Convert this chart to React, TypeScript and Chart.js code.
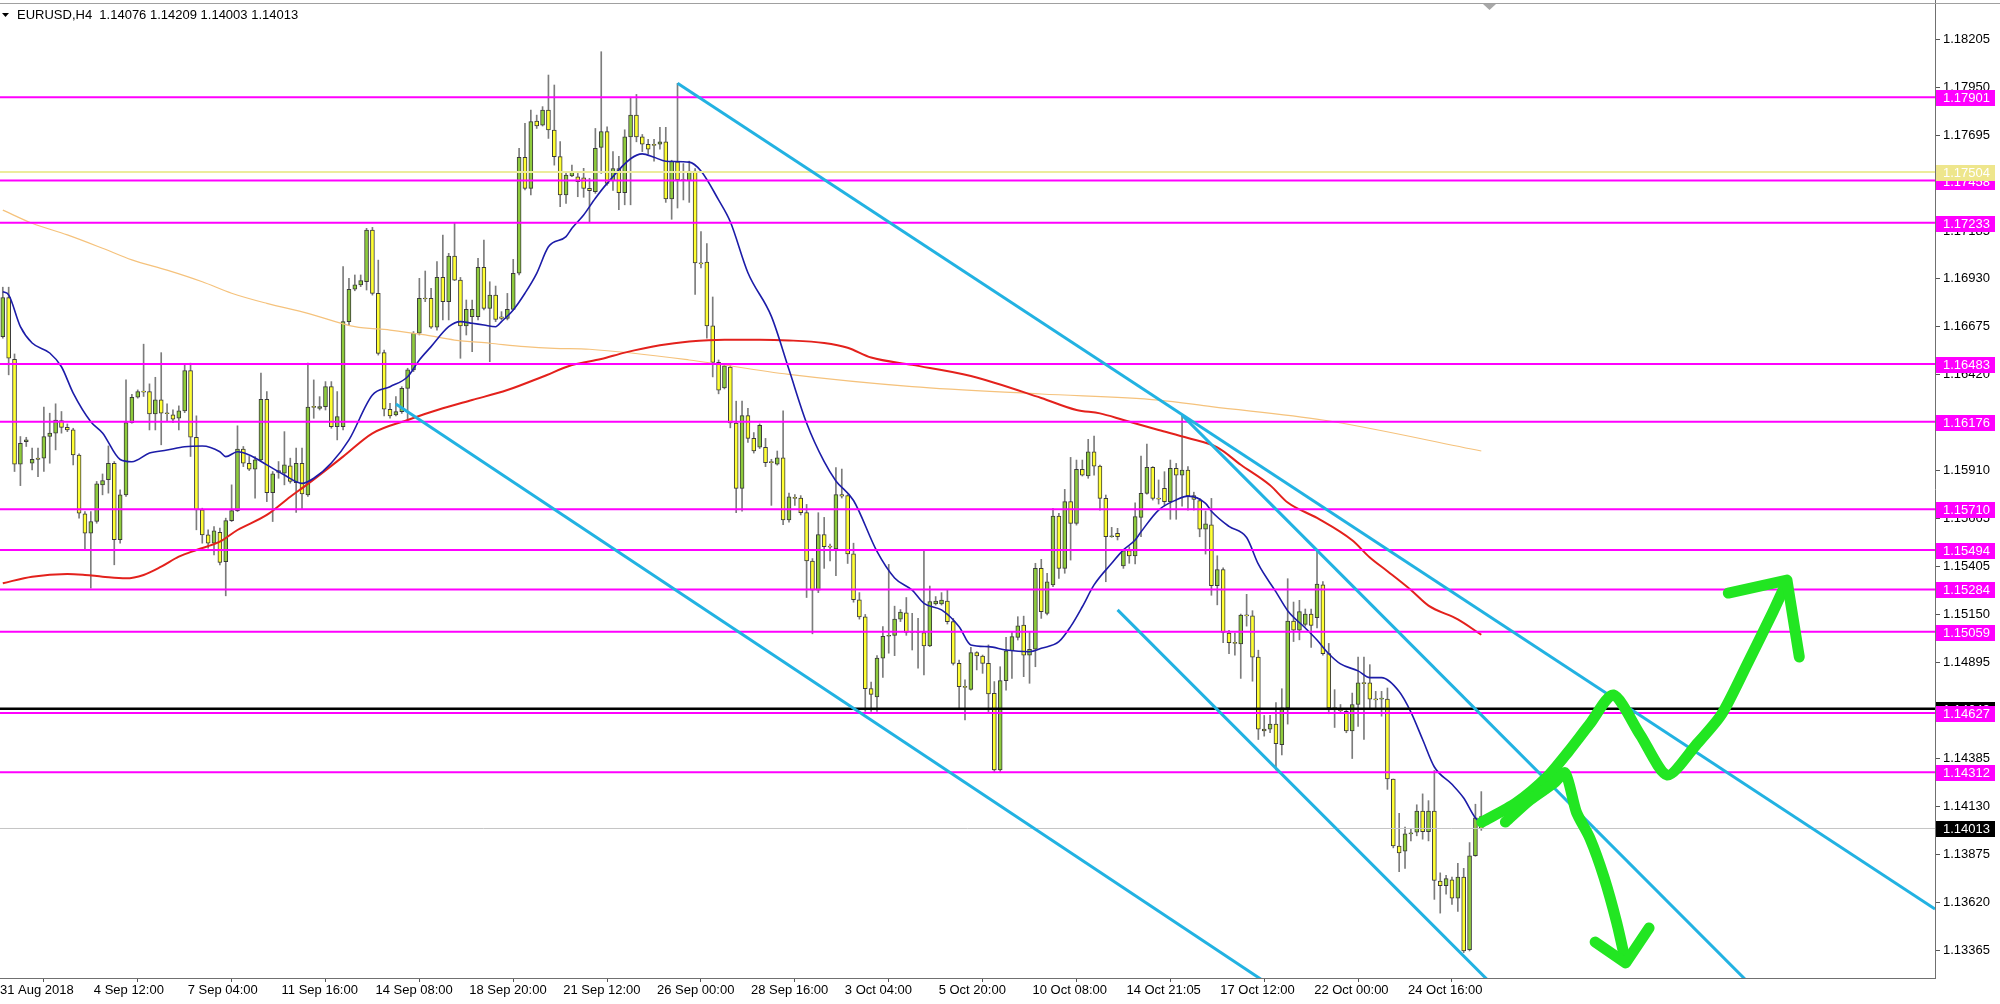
import React, { useEffect, useRef } from 'react';
import { Chart, registerables } from 'chart.js';

Chart.register(...registerables);

const FONT = '"Liberation Sans", Arial, sans-serif';

// ---- chart identity ----
const symbolName = 'EURUSD';
const timeframeName = 'H4';

// ---- candles (4-hour bars, index 0..252) ----
const openPrices = [
  1.16628,1.16836,1.16508,1.15950,1.16070,1.15955,1.15983,1.15982,1.16097,1.16115,
  1.16182,1.16146,1.16132,1.15999,1.15686,1.15583,1.15645,1.15840,1.15867,1.15955,
  1.15548,1.15787,1.16171,1.16306,1.16336,1.16336,1.16217,1.16292,1.16221,1.16212,
  1.16194,1.16233,1.16448,1.16093,1.15707,1.15574,1.15530,1.15587,1.15432,1.15650,
  1.15703,1.16030,1.15955,1.15923,1.15973,1.16295,1.15799,1.15916,1.15902,1.15941,
  1.15852,1.15955,1.15787,1.16256,1.16247,1.16256,1.16362,1.16149,1.16149,1.16708,
  1.16880,1.16903,1.16920,1.17195,1.16858,1.16543,1.16242,1.16212,1.16229,1.16353,
  1.16451,1.16646,1.16832,1.16832,1.16678,1.16943,1.16814,1.17057,1.16929,1.16685,
  1.16734,1.16734,1.16997,1.16778,1.16849,1.16734,1.16725,1.16773,1.16965,1.17581,
  1.17416,1.17774,1.17753,1.17833,1.17727,1.17585,1.17381,1.17482,1.17478,1.17473,
  1.17416,1.17399,1.17634,1.17718,1.17458,1.17522,1.17393,1.17690,1.17806,1.17690,
  1.17651,1.17651,1.17651,1.17664,1.17360,1.17558,1.17461,1.17458,1.17509,1.17020,
  1.17025,1.16685,1.16491,1.16355,1.16466,1.16169,1.15821,1.16208,1.16087,1.16040,
  1.16040,1.15963,1.15950,1.15984,1.15654,1.15771,1.15770,1.15692,1.15435,1.15280,
  1.15576,1.15512,1.15499,1.15788,1.15783,1.15473,1.15229,1.15138,1.14757,1.14713,
  1.14919,1.15035,1.15040,1.15126,1.15159,1.15059,1.15055,1.15054,1.14983,1.15207,
  1.15207,1.15222,1.15113,1.14891,1.14767,1.14753,1.14948,1.14930,1.14891,1.14732,
  1.14324,1.14799,1.14958,1.15029,1.15095,1.14935,1.14966,1.15396,1.15157,1.15308,
  1.15674,1.15396,1.15751,1.15635,1.15922,1.15887,1.16016,1.15940,1.15768,1.15564,
  1.15582,1.15409,1.15490,1.15462,1.15667,1.15795,1.15933,1.15768,1.15821,1.15751,
  1.15928,1.15892,1.15919,1.15783,1.15756,1.15604,1.15628,1.15304,1.15390,1.15052,
  1.15001,1.14994,1.15147,1.15144,1.14924,1.14541,1.14541,1.14568,1.14459,1.14654,
  1.15116,1.15067,1.15098,1.15153,1.15134,1.15308,1.14943,1.14654,1.14645,1.14636,
  1.14532,1.14672,1.14787,1.14787,1.14701,1.14701,1.14701,1.14276,1.13920,1.13892,
  1.13984,1.13993,1.14106,1.13996,1.14106,1.13733,1.13709,1.13740,1.13642,1.13755,
  1.13368,1.13868,1.14076,
];

const highPrices = [
  1.16891,1.16891,1.16536,1.16097,1.16093,1.16035,1.16035,1.16253,1.16221,1.16271,
  1.16230,1.16164,1.16141,1.16005,1.15698,1.15698,1.15858,1.15898,1.16047,1.15964,
  1.15813,1.16398,1.16322,1.16345,1.16588,1.16377,1.16412,1.16543,1.16271,1.16239,
  1.16260,1.16478,1.16487,1.16207,1.15716,1.15601,1.15618,1.15610,1.15663,1.15840,
  1.16154,1.16044,1.15991,1.15991,1.16434,1.16336,1.15911,1.15964,1.16123,1.15982,
  1.16035,1.16035,1.16487,1.16398,1.16309,1.16389,1.16389,1.16336,1.17000,1.16938,
  1.16956,1.16956,1.17204,1.17209,1.17035,1.16557,1.16274,1.16309,1.16362,1.16460,
  1.16655,1.16938,1.16977,1.16885,1.17027,1.17168,1.17071,1.17234,1.16943,1.16823,
  1.16823,1.17044,1.17142,1.16920,1.16897,1.16761,1.16858,1.17039,1.17629,1.17762,
  1.17833,1.17806,1.17851,1.18019,1.17966,1.17665,1.17496,1.17540,1.17496,1.17523,
  1.17470,1.17735,1.18143,1.17744,1.17612,1.17587,1.17728,1.17901,1.17916,1.17703,
  1.17677,1.17677,1.17741,1.17741,1.17566,1.17975,1.17548,1.17561,1.17522,1.17187,
  1.17123,1.16839,1.16504,1.16484,1.16473,1.16285,1.16285,1.16247,1.16118,1.16164,
  1.16087,1.15976,1.16020,1.16234,1.15796,1.15788,1.15783,1.15736,1.15448,1.15692,
  1.15667,1.15525,1.15932,1.15924,1.15788,1.15530,1.15267,1.15151,1.14791,1.14932,
  1.15087,1.15417,1.15195,1.15177,1.15241,1.15157,1.15130,1.15490,1.15302,1.15246,
  1.15267,1.15281,1.15130,1.14909,1.14803,1.14976,1.14953,1.14935,1.14989,1.14794,
  1.14873,1.15029,1.15059,1.15139,1.15142,1.15059,1.15423,1.15444,1.15370,1.15715,
  1.15689,1.15816,1.15986,1.15972,1.15972,1.16082,1.16100,1.15945,1.15786,1.15614,
  1.15609,1.15494,1.15511,1.15745,1.15993,1.16057,1.15937,1.15866,1.15910,1.15972,
  1.15954,1.16211,1.15937,1.15801,1.15768,1.15701,1.15768,1.15463,1.15399,1.15067,
  1.15052,1.15153,1.15258,1.15171,1.14961,1.14614,1.14614,1.14683,1.14756,1.15341,
  1.15217,1.15226,1.15180,1.15180,1.15491,1.15326,1.14997,1.14751,1.14672,1.14641,
  1.14733,1.14924,1.14924,1.14884,1.14742,1.14742,1.14760,1.14276,1.14093,1.14020,
  1.14011,1.14139,1.14197,1.14161,1.14321,1.13777,1.13764,1.13755,1.13828,1.13801,
  1.13938,1.14142,1.14209,
];

const lowPrices = [
  1.16620,1.16425,1.15911,1.15836,1.16044,1.15920,1.15884,1.15911,1.15955,1.16026,
  1.16115,1.16123,1.15946,1.15663,1.15494,1.15291,1.15636,1.15787,1.15796,1.15415,
  1.15530,1.15778,1.16168,1.16301,1.16310,1.16132,1.16132,1.16053,1.16177,1.16171,
  1.16132,1.16224,1.15991,1.15601,1.15530,1.15503,1.15468,1.15415,1.15250,1.15645,
  1.15698,1.15937,1.15916,1.15769,1.15964,1.15751,1.15645,1.15875,1.15840,1.15849,
  1.15693,1.15711,1.15778,1.16194,1.16238,1.16238,1.16141,1.16079,1.16132,1.16690,
  1.16872,1.16894,1.16876,1.16849,1.16530,1.16206,1.16194,1.16206,1.16220,1.16176,
  1.16442,1.16637,1.16814,1.16672,1.16663,1.16717,1.16717,1.16926,1.16513,1.16637,
  1.16548,1.16717,1.16770,1.16495,1.16708,1.16717,1.16717,1.16770,1.16956,1.17408,
  1.17381,1.17735,1.17748,1.17682,1.17540,1.17319,1.17337,1.17478,1.17372,1.17369,
  1.17234,1.17390,1.17496,1.17434,1.17406,1.17303,1.17329,1.17329,1.17664,1.17612,
  1.17599,1.17561,1.17625,1.17342,1.17252,1.17312,1.17355,1.17342,1.16852,1.16994,
  1.16620,1.16414,1.16324,1.16350,1.16143,1.15692,1.15700,1.16066,1.16009,1.16033,
  1.15937,1.15731,1.15945,1.15628,1.15641,1.15731,1.15680,1.15241,1.15048,1.15267,
  1.15396,1.15435,1.15357,1.15770,1.15422,1.15216,1.15126,1.14636,1.14636,1.14636,
  1.14816,1.14945,1.14932,1.15113,1.15040,1.14962,1.14865,1.14829,1.14980,1.15201,
  1.15201,1.15100,1.14882,1.14647,1.14590,1.14749,1.14856,1.14838,1.14625,1.14315,
  1.14310,1.14749,1.14811,1.15015,1.14820,1.14785,1.14873,1.15130,1.15148,1.15299,
  1.15343,1.15370,1.15440,1.15626,1.15887,1.15875,1.15892,1.15706,1.15325,1.15561,
  1.15547,1.15396,1.15423,1.15419,1.15564,1.15791,1.15759,1.15738,1.15728,1.15657,
  1.15657,1.15727,1.15706,1.15706,1.15564,1.15472,1.15253,1.15202,1.15001,1.14943,
  1.14934,1.14811,1.15089,1.14796,1.14486,1.14504,1.14522,1.14325,1.14404,1.14568,
  1.15007,1.15016,1.15089,1.14976,1.15080,1.14934,1.14623,1.14550,1.14632,1.14522,
  1.14385,1.14555,1.14486,1.14650,1.14650,1.14610,1.14221,1.13910,1.13783,1.13801,
  1.13947,1.13974,1.13956,1.13947,1.13636,1.13563,1.13664,1.13609,1.13572,1.13353,
  1.13362,1.13865,1.14003,
];

const closePrices = [
  1.16836,1.16513,1.15950,1.16061,1.16079,1.15976,1.15975,1.16097,1.16115,1.16185,
  1.16146,1.16132,1.15999,1.15689,1.15583,1.15645,1.15845,1.15863,1.15955,1.15548,
  1.15787,1.16171,1.16306,1.16336,1.16333,1.16217,1.16292,1.16221,1.16218,1.16189,
  1.16233,1.16448,1.16093,1.15707,1.15574,1.15530,1.15595,1.15427,1.15650,1.15703,
  1.16030,1.15955,1.15923,1.15973,1.16295,1.15799,1.15898,1.15906,1.15946,1.15858,
  1.15955,1.15792,1.16253,1.16252,1.16256,1.16362,1.16149,1.16203,1.16708,1.16880,
  1.16903,1.16926,1.17195,1.16858,1.16539,1.16242,1.16206,1.16229,1.16353,1.16451,
  1.16646,1.16832,1.16828,1.16678,1.16943,1.16814,1.17057,1.16929,1.16685,1.16773,
  1.16773,1.16997,1.16778,1.16849,1.16720,1.16725,1.16773,1.16965,1.17581,1.17416,
  1.17771,1.17748,1.17833,1.17727,1.17585,1.17381,1.17487,1.17505,1.17452,1.17416,
  1.17404,1.17629,1.17718,1.17443,1.17522,1.17393,1.17690,1.17806,1.17690,1.17651,
  1.17625,1.17645,1.17664,1.17360,1.17561,1.17461,1.17458,1.17509,1.17020,1.17015,
  1.16685,1.16491,1.16344,1.16473,1.16169,1.15821,1.16208,1.16087,1.16020,1.16156,
  1.15958,1.15958,1.15984,1.15654,1.15777,1.15768,1.15692,1.15435,1.15280,1.15576,
  1.15512,1.15509,1.15788,1.15780,1.15473,1.15229,1.15138,1.14757,1.14726,1.14919,
  1.15035,1.15040,1.15126,1.15164,1.15056,1.15055,1.15059,1.14983,1.15219,1.15222,
  1.15228,1.15113,1.14891,1.14767,1.14763,1.14948,1.14930,1.14891,1.14728,1.14324,
  1.14799,1.14958,1.15033,1.15090,1.14935,1.14966,1.15396,1.15166,1.15325,1.15674,
  1.15396,1.15751,1.15635,1.15922,1.15892,1.16016,1.15940,1.15768,1.15564,1.15568,
  1.15564,1.15490,1.15462,1.15671,1.15795,1.15933,1.15768,1.15764,1.15751,1.15928,
  1.15892,1.15919,1.15781,1.15763,1.15604,1.15633,1.15304,1.15390,1.15056,1.15001,
  1.14997,1.15147,1.15143,1.14924,1.14541,1.14532,1.14568,1.14464,1.14654,1.15116,
  1.15067,1.15166,1.15153,1.15092,1.15312,1.14943,1.14654,1.14650,1.14639,1.14532,
  1.14672,1.14787,1.14783,1.14701,1.14697,1.14705,1.14276,1.13920,1.13883,1.13984,
  1.13988,1.14106,1.13996,1.14106,1.13737,1.13709,1.13746,1.13642,1.13755,1.13362,
  1.13868,1.14069,1.14013,
];

// ---- moving averages (bar index -> price) ----
const blueMaBars = [0,1,3,5,8,10,12,15,17,20,22,25,28,31,34,37,38,40,42,45,48,51,53,56,59,63,66,69,71,73,76,78,80,82,84,85,87,89,91,93,96,97,99,101,103,107,109,111,113,117,119,122,124,127,131,134,137,140,142,145,149,152,155,157,160,163,165,168,171,175,177,180,182,184,186,189,191,193,194,197,200,202,205,206,209,212,214,217,219,222,224,226,228,231,233,235,238,240,242,244,247,249,251,252];
const blueMaValues = [1.16867,1.16850,1.16681,1.16594,1.16541,1.16468,1.16328,1.16176,1.16116,1.15975,1.15963,1.16009,1.16025,1.16043,1.16047,1.16016,1.15990,1.16016,1.15999,1.15946,1.15892,1.15848,1.15875,1.15956,1.16079,1.16318,1.16362,1.16415,1.16504,1.16575,1.16681,1.16708,1.16699,1.16690,1.16681,1.16708,1.16770,1.16859,1.16965,1.17106,1.17160,1.17204,1.17275,1.17364,1.17443,1.17574,1.17600,1.17582,1.17561,1.17556,1.17509,1.17355,1.17239,1.16968,1.16736,1.16453,1.16169,1.15963,1.15861,1.15757,1.15486,1.15345,1.15280,1.15210,1.15175,1.15086,1.14989,1.14980,1.14962,1.14953,1.14971,1.15006,1.15086,1.15192,1.15308,1.15423,1.15494,1.15547,1.15590,1.15706,1.15760,1.15780,1.15742,1.15700,1.15619,1.15560,1.15418,1.15271,1.15171,1.15079,1.15015,1.14942,1.14888,1.14851,1.14815,1.14815,1.14741,1.14632,1.14486,1.14340,1.14248,1.14175,1.14069,1.14047];

const redMaBars = [0,5,11,14,17,21,24,27,30,33,37,40,45,49,52,58,63,69,75,80,86,92,97,102,106,112,117,123,129,134,140,144,148,155,165,177,183,187,191,197,202,207,211,216,219,224,230,233,236,240,243,248,252];
const redMaValues = [1.15317,1.15352,1.15366,1.15361,1.15352,1.15343,1.15361,1.15405,1.15458,1.15494,1.15538,1.15600,1.15680,1.15777,1.15845,1.15990,1.16114,1.16185,1.16247,1.16291,1.16344,1.16415,1.16477,1.16509,1.16543,1.16582,1.16602,1.16612,1.16612,1.16608,1.16594,1.16569,1.16517,1.16478,1.16419,1.16302,1.16238,1.16220,1.16185,1.16132,1.16089,1.16039,1.15947,1.15838,1.15746,1.15664,1.15545,1.15454,1.15381,1.15281,1.15198,1.15125,1.15043];

const orangeMaBars = [0,5,11,17,22,28,34,39,45,52,60,66,72,77,83,89,94,100,117,134,155,177,197,206,225,252];
const orangeMaValues = [1.17301,1.17231,1.17169,1.17098,1.17036,1.16982,1.16920,1.16859,1.16805,1.16752,1.16681,1.16663,1.16637,1.16610,1.16593,1.16575,1.16566,1.16561,1.16504,1.16427,1.16362,1.16323,1.16291,1.16256,1.16185,1.16020];

// ---- horizontal levels ----
const magentaLevels = [1.17901, 1.17458, 1.17233, 1.16483, 1.16176, 1.15710, 1.15494, 1.15284, 1.15059, 1.14627, 1.14312];
const khakiLevel = 1.17504;
const blackLevel = 1.14649;
const currentBid = 1.14013;

// ---- trend lines: start bar/price -> end bar/price ----
const trendStartBars = [115, 67, 201, 190];
const trendStartPrices = [1.17975, 1.16270, 1.16211, 1.15175];
const trendEndBars = [329.33, 215, 297, 253];
const trendEndPrices = [1.13585, 1.13200, 1.13210, 1.13210];

// ---- hand-drawn green arrows (bar, price) ----
const upArrowBars = [252.1, 257.9, 263.2, 266.8, 270.5, 274.5, 279.1, 283.7, 288.6, 293, 297.5, 301.7, 303.9];
const upArrowPrices = [1.14047, 1.14148, 1.14287, 1.14420, 1.14569, 1.14723, 1.14510, 1.14297, 1.14457, 1.14622, 1.14898, 1.15164, 1.15313];
const upHeadBars = [294.1, 304.1, 306.2];
const upHeadPrices = [1.15265, 1.15334, 1.14925];
const downArrowBars = [256.1, 260.3, 264.4, 266.3, 268.2, 270.5, 272.9, 275.1, 276.6];
const downArrowPrices = [1.14047, 1.14164, 1.14255, 1.14308, 1.14101, 1.13962, 1.13755, 1.13510, 1.13303];
const downHeadBars = [271.4, 276.6, 280.6];
const downHeadPrices = [1.13409, 1.13298, 1.13484];

// ---- axes ----
const yTickValues = [1.13365,1.13620,1.13875,1.14130,1.14385,1.14640,1.14895,1.15150,1.15405,1.15660,1.15915,1.16170,1.16425,1.16680,1.16935,1.17190,1.17445,1.17700,1.17955,1.18210];
const yTickLabels = ['1.13365','1.13620','1.13875','1.14130','1.14385','1.14640','1.14895','1.15150','1.15405','1.15665','1.15910','1.16165','1.16420','1.16675','1.16930','1.17185','1.17440','1.17695','1.17950','1.18205'];
const xTickBars = [-1, 15, 31, 47, 63, 79, 95, 111, 127, 143, 159, 175, 191, 207, 223, 239];
const xTickLabels = ['31 Aug 2018','4 Sep 12:00','7 Sep 04:00','11 Sep 16:00','14 Sep 08:00','18 Sep 20:00','21 Sep 12:00','26 Sep 00:00','28 Sep 16:00','3 Oct 04:00','5 Oct 20:00','10 Oct 08:00','14 Oct 21:05','17 Oct 12:00','22 Oct 00:00','24 Oct 16:00'];

const X_MIN = -0.477;
const X_MAX = 329.33;
const Y_MIN = 1.13218;
const Y_MAX = 1.18418;

const pts = (xs: number[], ys: number[]) => xs.map((x, i) => ({ x, y: ys[i] }));

const decorations = {
  id: 'mt4Decorations',
  afterDraw(chart: any) {
    const ctx = chart.ctx as CanvasRenderingContext2D;
    const ys = chart.scales.y;
    const right = chart.chartArea.right;
    ctx.save();
    // window top edge
    ctx.strokeStyle = '#a0a0a0';
    ctx.lineWidth = 1;
    ctx.beginPath();
    ctx.moveTo(0, 3.5);
    ctx.lineTo(2000, 3.5);
    ctx.stroke();
    // chart shift marker
    ctx.fillStyle = '#a8a8a8';
    ctx.beginPath();
    ctx.moveTo(1483, 4);
    ctx.lineTo(1496, 4);
    ctx.lineTo(1489.5, 10);
    ctx.closePath();
    ctx.fill();
    // header
    ctx.fillStyle = '#000';
    ctx.beginPath();
    ctx.moveTo(2, 13);
    ctx.lineTo(9, 13);
    ctx.lineTo(5.5, 17);
    ctx.closePath();
    ctx.fill();
    const n = closePrices.length - 1;
    const header = `${symbolName},${timeframeName}  ${openPrices[n].toFixed(5)} ${highPrices[n].toFixed(5)} ${lowPrices[n].toFixed(5)} ${closePrices[n].toFixed(5)}`;
    ctx.font = `13px ${FONT}`;
    ctx.textBaseline = 'middle';
    ctx.textAlign = 'left';
    ctx.fillText(header, 17, 15.5);
    // price tags on the right
    const tag = (value: number, bg: string, fg: string) => {
      const py = Math.round(ys.getPixelForValue(value));
      ctx.fillStyle = bg;
      ctx.fillRect(right + 1, py - 7, 59, 16);
      ctx.fillStyle = fg;
      ctx.fillText(value.toFixed(5), right + 8, py + 1);
    };
    tag(blackLevel, '#000000', '#ffffff');
    magentaLevels.forEach((v) => tag(v, '#ff00ff', '#ffffff'));
    tag(khakiLevel, '#eee68c', '#ffffff');
    tag(currentBid, '#000000', '#ffffff');
    ctx.restore();
  },
};

export default function App() {
  const canvasRef = useRef<HTMLCanvasElement | null>(null);

  useEffect(() => {
    const canvas = canvasRef.current;
    if (!canvas) return;
    const idx = openPrices.map((_, i) => i);
    const hline = (level: number, color: string, width: number, order: number) => ({
      type: 'line',
      data: [{ x: X_MIN, y: level }, { x: X_MAX, y: level }],
      borderColor: color,
      borderWidth: width,
      pointRadius: 0,
      order,
    });
    const datasets: any[] = [
      {
        type: 'bar',
        data: idx.map((i) => ({ x: i, y: [lowPrices[i], highPrices[i]] })),
        backgroundColor: '#7c7c7c',
        borderWidth: 0,
        barThickness: 1,
        grouped: false,
        order: 100,
      },
      {
        type: 'bar',
        data: idx.map((i) => ({ x: i, y: [openPrices[i], closePrices[i]] })),
        backgroundColor: idx.map((i) => (closePrices[i] >= openPrices[i] ? '#8ecb3c' : '#ffff33')),
        borderColor: '#3a3a3a',
        borderWidth: 1,
        borderSkipped: false,
        barThickness: 4,
        minBarLength: 1,
        grouped: false,
        order: 90,
      },
      hline(currentBid, '#c4c4c4', 1, 60),
      hline(khakiLevel, '#ecec9c', 2, 45),
      ...magentaLevels.map((v) => hline(v, '#ff00ff', 2, 44)),
      hline(blackLevel, '#000000', 2.5, 43),
      {
        type: 'line',
        data: pts(orangeMaBars, orangeMaValues),
        borderColor: '#f5c27c',
        borderWidth: 1.2,
        pointRadius: 0,
        cubicInterpolationMode: 'monotone',
        order: 52,
      },
      {
        type: 'line',
        data: pts(redMaBars, redMaValues),
        borderColor: '#e3211c',
        borderWidth: 2,
        pointRadius: 0,
        cubicInterpolationMode: 'monotone',
        order: 51,
      },
      {
        type: 'line',
        data: pts(blueMaBars, blueMaValues),
        borderColor: '#1c1ca8',
        borderWidth: 1.6,
        pointRadius: 0,
        cubicInterpolationMode: 'monotone',
        order: 50,
      },
      ...trendStartBars.map((b, k) => ({
        type: 'line',
        data: [{ x: b, y: trendStartPrices[k] }, { x: trendEndBars[k], y: trendEndPrices[k] }],
        borderColor: '#22b2e2',
        borderWidth: 3,
        pointRadius: 0,
        order: 30,
      })),
      ...[
        pts(upArrowBars, upArrowPrices),
        pts(upHeadBars, upHeadPrices),
        pts(downArrowBars, downArrowPrices),
        pts(downHeadBars, downHeadPrices),
      ].map((data, k) => ({
        type: 'line',
        data,
        borderColor: '#22e622',
        borderWidth: 11,
        borderCapStyle: 'round',
        borderJoinStyle: 'round',
        pointRadius: 0,
        tension: k % 2 === 0 ? 0.25 : 0,
        order: 10 - k,
      })),
    ];

    const chart = new Chart(canvas, {
      type: 'bar',
      data: { datasets },
      options: {
        responsive: false,
        animation: false,
        devicePixelRatio: 1,
        events: [],
        layout: { autoPadding: false, padding: 0 },
        plugins: { legend: { display: false }, tooltip: { enabled: false } },
        scales: {
          x: {
            type: 'linear',
            min: X_MIN,
            max: X_MAX,
            offset: false,
            afterBuildTicks: (scale: any) => {
              scale.ticks = xTickBars.map((v) => ({ value: v }));
            },
            afterFit: (scale: any) => {
              scale.height = 26;
              scale.paddingLeft = 0;
              scale.paddingRight = 0;
              scale.paddingTop = 0;
              scale.paddingBottom = 0;
            },
            ticks: {
              autoSkip: false,
              maxRotation: 0,
              minRotation: 0,
              align: 'start',
              labelOffset: 3,
              padding: 1,
              color: '#000',
              font: { family: FONT, size: 13 },
              callback: (value: any) => {
                const k = xTickBars.indexOf(Number(value));
                return k >= 0 ? xTickLabels[k] : '';
              },
            },
            grid: { display: true, drawOnChartArea: false, drawTicks: true, tickLength: 4, color: '#555' },
            border: { display: true, color: '#707070', width: 1 },
          },
          y: {
            type: 'linear',
            position: 'right',
            min: Y_MIN,
            max: Y_MAX,
            afterBuildTicks: (scale: any) => {
              scale.ticks = yTickValues.map((v) => ({ value: v }));
            },
            afterFit: (scale: any) => {
              scale.width = 65;
              scale.paddingLeft = 0;
              scale.paddingRight = 0;
              scale.paddingTop = 0;
              scale.paddingBottom = 0;
            },
            ticks: {
              autoSkip: false,
              padding: 3,
              color: '#000',
              font: { family: FONT, size: 13 },
              callback: (value: any) => {
                const k = yTickValues.indexOf(Number(value));
                return k >= 0 ? yTickLabels[k] : '';
              },
            },
            grid: { display: true, drawOnChartArea: false, drawTicks: true, tickLength: 5, color: '#555' },
            border: { display: true, color: '#707070', width: 1 },
          },
        },
      } as any,
      plugins: [decorations],
    } as any);

    return () => chart.destroy();
  }, []);

  return (
    <div style={{ position: 'fixed', left: 0, top: 0, width: 2000, height: 1004, background: '#ffffff' }}>
      <canvas ref={canvasRef} width={2000} height={1004} style={{ display: 'block' }} />
    </div>
  );
}
